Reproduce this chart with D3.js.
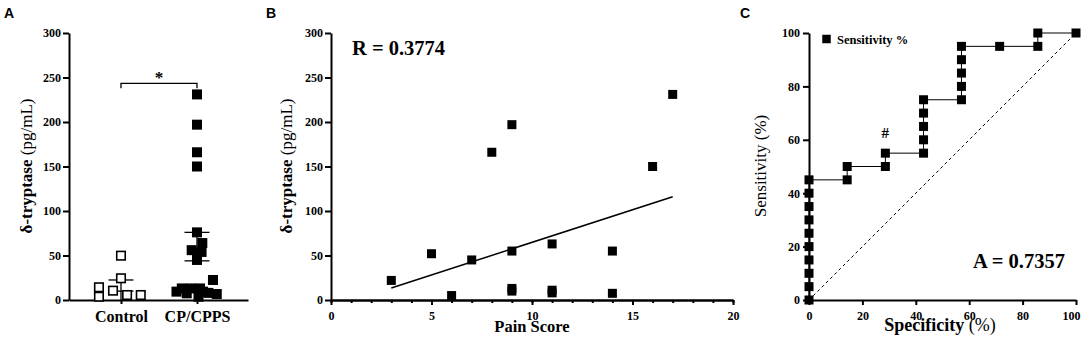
<!DOCTYPE html>
<html><head><meta charset="utf-8">
<script src="https://cdn.jsdelivr.net/npm/d3@7"></script>
<style>body{margin:0;background:#fff} svg{display:block}</style>
</head><body>
<svg id="chart" width="1084" height="338"></svg>
<script>
// ---------- Panel A data ----------
const categoriesA = ["Control", "CP/CPPS"];
const controlValues = [14.3, 3.7, 10.5, 49.8, 24.4, 5.6, 5.6];
const controlJitter = [-0.29, -0.29, -0.105, 0, 0, 0.08, 0.26];
const cpValues = [231, 197, 166, 150, 76, 64, 56, 54, 52, 45, 22.5, 9.4, 13, 13, 7.5, 13, 9.4, 8, 6.7, 3.7];
const cpJitter = [0, 0, 0, 0, 0, 0.07, -0.07, 0.06, 0, 0, 0.21, -0.27, -0.2, -0.08, -0.135, 0.04, 0.08, 0.15, 0.26, 0.02];
const errorUpper = [22.5, 76];
const errorLower = [10, 44];
const bracketValue = 243.5;
const yTicksA = [0, 50, 100, 150, 200, 250, 300];

// ---------- Panel B data ----------
const painScore = [3, 5, 6, 7, 8, 9, 9, 9, 9, 11, 11, 11, 14, 14, 16, 17];
const tryptaseB = [22, 52, 5, 45, 166, 197, 55, 13, 10, 63, 11, 8, 55, 7.5, 150, 231];
const fitX = [3, 17];
const fitY = [13.5, 116];
const xTicksB = [0, 5, 10, 15, 20];
const rLabel = "R = 0.3774";

// ---------- Panel C data ----------
const specificity = [0, 0, 0, 0, 0, 0, 0, 0, 0, 0, 14.3, 14.3, 28.6, 28.6, 42.9, 42.9, 42.9, 42.9, 42.9, 57.1, 57.1, 57.1, 57.1, 57.1, 71.4, 85.7, 85.7, 100];
const sensitivity = [0, 5, 10, 15, 20, 25, 30, 35, 40, 45, 45, 50, 50, 55, 55, 60, 65, 70, 75, 75, 80, 85, 90, 95, 95, 95, 100, 100];
const ticksC = [0, 20, 40, 60, 80, 100];
const aLabel = "A = 0.7357";
const legendLabel = "Sensitivity %";

// ---------- drawing ----------
const svg = d3.select("#chart");
const SERIF = "'Liberation Serif','Times New Roman',serif";
const SANS = "'Liberation Sans',Arial,sans-serif";

function styleAxis(g, fs) {
  g.attr("font-family", null);
  g.select(".domain").attr("stroke", "#000").attr("stroke-width", 2);
  g.selectAll(".tick line").attr("stroke", "#000").attr("stroke-width", 2);
  g.selectAll(".tick text").attr("fill", "#000")
    .style("font-family", SERIF).style("font-weight", "bold").style("font-size", fs + "px");
}
function square(g, x, y, s, filled) {
  g.append("rect").attr("x", x - s / 2).attr("y", y - s / 2).attr("width", s).attr("height", s)
    .attr("fill", filled ? "#000" : "#fff").attr("stroke", "#000").attr("stroke-width", filled ? 0 : 1.6);
}
function yLabel(x, y, boldPart, normalPart, boldWhole) {
  const t = svg.append("text").attr("transform", `translate(${x},${y}) rotate(-90)`)
    .attr("text-anchor", "middle").style("font-family", SERIF).style("font-size", "17px");
  t.append("tspan").style("font-weight", boldWhole ? "bold" : "normal").text(boldPart);
  t.append("tspan").style("font-weight", "normal").text(" " + normalPart);
}
function panelLetter(x, txt) {
  svg.append("text").attr("x", x).attr("y", 18).text(txt)
    .style("font-family", SANS).style("font-weight", "bold").style("font-size", "14px");
}

const yVal = d3.scaleLinear().domain([0, 300]).range([300, 33]);

// ===== Panel A =====
panelLetter(4, "A");
const xA = d3.scaleLinear().domain([0.316, 2.671]).range([69, 248]);
const gA = svg.append("g");
gA.append("g").attr("transform", "translate(69,0)")
  .call(d3.axisLeft(yVal).tickValues(yTicksA).tickSize(6).tickPadding(2).tickSizeOuter(0))
  .call(g => styleAxis(g, 12));
gA.append("g").attr("transform", "translate(0,300)")
  .call(d3.axisBottom(xA).tickValues([1, 2]).tickFormat((d, i) => categoriesA[i]).tickSize(4).tickPadding(7).tickSizeOuter(0))
  .call(g => styleAxis(g, 16));
yLabel(32, 166, "δ-tryptase", "(pg/mL)", true);

// error bars
[1, 2].forEach((c, i) => {
  const cx = xA(c);
  gA.append("line").attr("x1", cx).attr("x2", cx).attr("y1", yVal(errorUpper[i])).attr("y2", i === 0 ? yVal(0) : yVal(errorLower[i]))
    .attr("stroke", "#000").attr("stroke-width", 1.3);
  [errorUpper[i], errorLower[i]].forEach(v => {
    gA.append("line").attr("x1", cx - 12.5).attr("x2", cx + 12.5).attr("y1", yVal(v)).attr("y2", yVal(v))
      .attr("stroke", "#000").attr("stroke-width", 1.3);
  });
});
controlValues.forEach((v, i) => square(gA, xA(1 + controlJitter[i]), yVal(v), 8.5, false));
cpValues.forEach((v, i) => square(gA, xA(2 + cpJitter[i]), yVal(v), 10, true));

// significance bracket
const by = yVal(bracketValue);
gA.append("path").attr("d", `M${xA(1)},${by + 5}V${by}H${xA(2)}V${by + 5}`)
  .attr("fill", "none").attr("stroke", "#000").attr("stroke-width", 1.3);
gA.append("text").attr("x", (xA(1) + xA(2)) / 2).attr("y", by + 0).attr("text-anchor", "middle")
  .style("font-family", SERIF).style("font-weight", "bold").style("font-size", "17px").text("*");

// ===== Panel B =====
panelLetter(266, "B");
const xB = d3.scaleLinear().domain([0, 20]).range([331, 733]);
const gB = svg.append("g");
gB.append("g").attr("transform", "translate(331,0)")
  .call(d3.axisLeft(yVal).tickValues(yTicksA).tickSize(6).tickPadding(2).tickSizeOuter(0))
  .call(g => styleAxis(g, 12));
gB.append("g").attr("transform", "translate(0,300)")
  .call(d3.axisBottom(xB).tickValues(d3.range(0, 21)).tickSize(3).tickFormat("").tickSizeOuter(0))
  .call(g => styleAxis(g, 12));
gB.append("g").attr("transform", "translate(0,300)")
  .call(d3.axisBottom(xB).tickValues(xTicksB).tickSize(5).tickPadding(6).tickSizeOuter(0))
  .call(g => styleAxis(g, 12));
yLabel(292, 166, "δ-tryptase", "(pg/mL)", true);
svg.append("text").attr("x", (331 + 733) / 2).attr("y", 332).attr("text-anchor", "middle")
  .style("font-family", SERIF).style("font-weight", "bold").style("font-size", "16.5px").text("Pain Score");
gB.append("line").attr("x1", xB(fitX[0])).attr("y1", yVal(fitY[0])).attr("x2", xB(fitX[1])).attr("y2", yVal(fitY[1]))
  .attr("stroke", "#000").attr("stroke-width", 1.5);
painScore.forEach((x, i) => square(gB, xB(x), yVal(tryptaseB[i]), 9, true));
svg.append("text").attr("x", 352).attr("y", 55)
  .style("font-family", SERIF).style("font-weight", "bold").style("font-size", "20.5px").text(rLabel);

// ===== Panel C =====
panelLetter(740, "C");
const xC = d3.scaleLinear().domain([0, 100]).range([809, 1076]);
const yC = d3.scaleLinear().domain([0, 100]).range([300, 33]);
const gC = svg.append("g");
gC.append("line").attr("x1", xC(0)).attr("y1", yC(0)).attr("x2", xC(100)).attr("y2", yC(100))
  .attr("stroke", "#000").attr("stroke-width", 1).attr("stroke-dasharray", "3,3");
gC.append("g").attr("transform", "translate(809,0)")
  .call(d3.axisLeft(yC).tickValues(ticksC).tickSize(6).tickPadding(3).tickSizeOuter(0))
  .call(g => styleAxis(g, 12));
gC.append("g").attr("transform", "translate(0,300)")
  .call(d3.axisBottom(xC).tickValues(ticksC).tickSize(5).tickPadding(6).tickSizeOuter(0))
  .call(g => styleAxis(g, 12))
  .call(g => g.selectAll(".tick text").filter(d => d === 100).attr("dx", -5));
yLabel(766, 166, "Sensitivity", "(%)", false);
{
  const t = svg.append("text").attr("x", 940).attr("y", 331).attr("text-anchor", "middle")
    .style("font-family", SERIF).style("font-size", "18px");
  t.append("tspan").style("font-weight", "bold").text("Specificity");
  t.append("tspan").style("font-weight", "normal").text(" (%)");
}
const line = d3.line().x((d, i) => xC(specificity[i])).y((d, i) => yC(sensitivity[i]));
gC.append("path").datum(specificity).attr("d", line).attr("fill", "none").attr("stroke", "#000").attr("stroke-width", 1);
specificity.forEach((x, i) => square(gC, xC(x), yC(sensitivity[i]), 9, true));
// legend
square(gC, 826.5, 39, 8.5, true);
svg.append("text").attr("x", 837).attr("y", 43.5)
  .style("font-family", SERIF).style("font-weight", "bold").style("font-size", "12.5px").text(legendLabel);
svg.append("text").attr("x", xC(28.6)).attr("y", 138).attr("text-anchor", "middle")
  .style("font-family", SERIF).style("font-weight", "bold").style("font-size", "15px").text("#");
svg.append("text").attr("x", 973).attr("y", 268)
  .style("font-family", SERIF).style("font-weight", "bold").style("font-size", "20.5px").text(aLabel);
</script>
</body></html>
